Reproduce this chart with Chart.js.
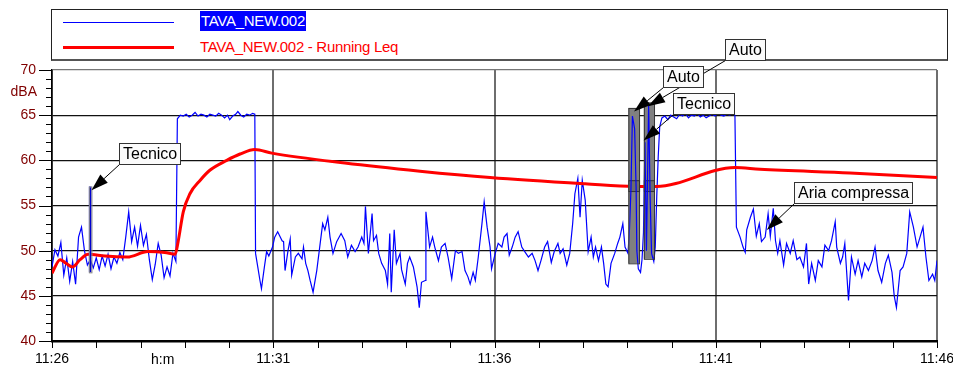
<!DOCTYPE html>
<html>
<head>
<meta charset="utf-8">
<script src="https://cdn.jsdelivr.net/npm/chart.js@4.4.1/dist/chart.umd.min.js"></script>
<style>
  html, body { margin: 0; padding: 0; background: #fff; }
  #wrap { position: relative; width: 953px; height: 372px; font-family: 'Liberation Sans', Arial, sans-serif; }
  #chart { position: absolute; left: 0; top: 0; }
  #legend { position: absolute; left: 51px; top: 9px; width: 895px; height: 49px;
            border: 1px solid #222; border-bottom: 2px solid #555; background: #fff; }
  #legend .swatch { position: absolute; left: 11px; width: 111px; }
  #legend .lbl { position: absolute; left: 148px; font-size: 15px; line-height: 20px; letter-spacing: -0.3px; white-space: nowrap; }
  #legend .sel { background: #0000ff; color: #fff; padding: 0 1px; }
</style>
</head>
<body>
<div id="wrap">
  <div id="legend"></div>
  <canvas id="chart" width="953" height="372"></canvas>
</div>
<script>
// time axis in seconds from 11:26:00
const TICK_SECONDS = [0, 300, 600, 900, 1200];
const TICK_LABELS  = ['11:26', '11:31', '11:36', '11:41', '11:46'];
const SERIES_NAMES = ['TAVA_NEW.002', 'TAVA_NEW.002 - Running Leq'];

// instantaneous level, [seconds, dBA]
const levelPoints = [
  [0,48.2],[4,50.1],[8,49.4],[12,50.9],[16,47.3],[20,49.2],[24,46.6],[28,48.8],[32,46.3],[36,51.5],
  [40,52.6],[44,50.0],[48,48.4],[52,49.0],[56,48.1],[60,49.2],[64,47.9],[68,49.4],[72,48.3],[76,49.6],
  [80,48.0],[84,49.3],[88,48.6],[92,49.8],[96,49.0],[100,51.5],[104,54.3],[108,51.0],[112,52.6],[116,50.5],
  [120,52.8],[124,50.6],[128,51.8],[132,49.0],[136,46.8],[140,48.5],[144,50.8],[148,49.5],[152,47.0],[156,48.2],
  [160,47.2],[164,49.7],[168,48.8],
  [170,64.6],[174,65.0],[178,64.9],[182,65.1],[186,64.8],[190,65.0],[194,65.3],[198,64.9],[202,65.1],[206,65.0],
  [210,64.8],[214,65.1],[218,65.0],[222,64.9],[226,65.2],[230,65.0],[234,64.7],[238,65.0],[241,64.5],[245,64.9],
  [249,65.1],[252,65.4],[256,65.0],[260,64.8],[264,65.1],[268,65.0],[272,65.2],[275,65.1],
  [276,49.7],[279,48.2],[282,46.7],[284,45.8],[288,48.2],[291,49.9],[294,49.4],[299,50.4],[302,51.5],[306,52.1],
  [312,51.1],[314,51.0],[316,47.8],[320,50.0],[323,51.3],[325,47.3],[330,49.3],[334,49.7],[339,49.1],[341,50.4],
  [344,48.6],[347,47.8],[350,46.7],[354,45.4],[359,47.8],[363,50.4],[367,53.0],[370,52.3],[374,53.7],[377,51.5],
  [381,49.7],[386,51.0],[392,51.9],[397,51.1],[401,49.3],[406,50.6],[411,49.9],[415,50.4],[420,51.5],[423,50.8],
  [425,54.9],[429,49.7],[434,54.1],[436,51.1],[440,51.7],[443,49.7],[447,48.6],[452,47.8],[455,46.3],[458,51.9],
  [460,45.4],[464,52.3],[467,48.6],[472,49.7],[474,47.9],[479,46.3],[482,48.6],[485,49.3],[490,48.2],[495,46.0],
  [498,43.7],[501,46.5],[506,46.7],[507,54.3],[512,50.4],[516,51.5],[519,50.4],[524,48.9],[528,50.4],[533,50.8],
  [537,49.3],[542,46.9],[547,50.0],[551,49.7],[556,49.9],[560,47.8],[564,47.1],[567,46.3],[571,47.6],[574,46.7],
  [578,49.3],[583,53.0],[586,55.4],[590,52.6],[594,50.4],[596,48.0],[601,49.7],[605,50.8],[610,50.4],[613,51.5],
  [617,51.9],[620,49.5],[624,50.4],[628,51.5],[632,52.1],[637,50.4],[641,49.9],[646,49.3],[651,49.7],[655,48.9],
  [659,47.8],[663,48.9],[668,50.4],[672,51.0],[677,48.7],[681,49.9],[686,50.8],[689,49.7],[693,50.2],[698,48.4],
  [702,49.7],[706,53.0],[709,56.3],[713,58.0],[716,53.7],[719,57.8],[723,55.6],[727,49.9],[731,51.5],[734,49.3],
  [737,50.4],[741,48.9],[745,50.4],[748,48.6],[751,46.3],[754,46.0],[758,48.6],[763,49.7],[767,50.8],[770,51.5],
  [774,53.0],[777,50.4],[781,49.7],
  [783,52.3],[785,56.7],[787,64.9],[790,63.5],[792,57.0],[793,50.0],[795,48.0],[798,47.6],[800,49.0],[802,52.0],
  [804,62.0],[806,50.0],[809,66.1],[811,56.0],[813,49.7],[816,48.8],[818,50.4],[820,56.0],[822,60.4],[824,63.7],
  [827,64.7],[831,64.9],[835,64.5],[839,65.0],[843,64.8],[847,64.6],[851,65.1],[855,64.9],[859,65.2],[863,64.7],
  [867,65.0],[871,64.9],[875,65.2],[879,64.8],[883,65.0],[887,64.7],[891,64.9],[895,65.1],[899,64.9],[903,65.2],
  [907,65.0],[911,64.9],[915,65.1],[919,65.0],[923,65.2],[926,65.0],
  [928,52.6],[933,51.5],[937,50.4],[940,49.8],[942,52.3],[947,53.7],[951,54.6],[955,51.6],[959,53.0],[962,51.0],
  [967,51.5],[971,54.1],[974,51.6],[978,54.7],[981,51.1],[984,49.7],[987,51.1],[992,48.4],[996,50.8],[1001,49.7],
  [1005,51.1],[1010,49.0],[1014,49.3],[1019,48.2],[1023,50.8],[1026,46.3],[1030,48.6],[1035,46.7],[1039,48.9],[1044,48.2],
  [1048,50.6],[1053,50.0],[1057,51.1],[1062,53.2],[1064,50.4],[1069,48.6],[1072,49.3],[1075,50.8],[1080,44.5],[1084,49.3],
  [1089,47.4],[1093,48.9],[1098,47.1],[1102,48.6],[1107,47.8],[1112,48.9],[1116,50.4],[1120,47.8],[1125,46.5],[1130,48.6],
  [1134,49.5],[1139,47.6],[1142,45.0],[1145,43.7],[1150,47.8],[1154,48.2],[1159,49.7],[1163,54.3],[1168,52.6],[1173,50.4],
  [1177,51.5],[1181,52.6],[1185,49.3],[1189,46.7],[1194,47.4],[1197,46.7],[1200,48.9]
];

// running Leq, [seconds, dBA]
const leqPoints = [
  [0,47.5],[11,49.0],[19,48.6],[28,48.2],[38,49.0],[49,49.6],[72,49.4],[102,49.3],[130,49.9],[153,49.8],
  [167,49.6],[171,51.0],[178,54.3],[187,56.3],[201,57.8],[214,58.9],[237,60.0],[255,60.7],[275,61.2],[298,60.8],
  [397,59.7],[499,58.8],[594,58.1],[723,57.4],[790,57.1],[819,57.1],[926,59.2],[960,59.0],[1082,58.6],[1200,58.1]
];

// excluded regions (gray) : [startSec, endSec, lowDb, highDb]
const excludedRegions = [[781.5, 796, 48.6, 65.8], [802.5, 816.3, 49.1, 66.4]];
// short marker at the first "Tecnico"
const markerRegion = [50, 53.5, 47.6, 57.1];

// callouts
const noteLabels  = ['Tecnico', 'Auto', 'Auto', 'Tecnico', 'Aria compressa'];
const noteBoxT    = [90.9, 912.6, 829, 842.5, 1006.2];
const noteBoxV    = [61.9, 73.4, 70.4, 67.5, 57.65];
const noteTargetT = [53.6, 808.2, 789.2, 802.2, 969.2];
const noteTargetV = [56.7, 66.0, 65.4, 62.2, 52.3];

const FONT = "'Liberation Sans', Arial, sans-serif";
Chart.defaults.font.family = FONT;

// legend (html, sits under the transparent canvas)
const legend = document.getElementById('legend');
legend.innerHTML = `
  <div class="swatch" style="top:12px;height:1px;background:#0000ff"></div>
  <div class="lbl sel" style="top:1px">${SERIES_NAMES[0]}</div>
  <div class="swatch" style="top:36px;height:3px;background:#ff0000"></div>
  <div class="lbl" style="top:27px;color:#ff0000">${SERIES_NAMES[1]}</div>`;

function arrow(ctx, x0, y0, x1, y1) {
  const ang = Math.atan2(y1 - y0, x1 - x0);
  const len = 17, half = 5.5;
  const bx = x1 - Math.cos(ang) * len, by = y1 - Math.sin(ang) * len;
  ctx.strokeStyle = '#000';
  ctx.lineWidth = 1;
  ctx.beginPath(); ctx.moveTo(x0, y0); ctx.lineTo(bx, by); ctx.stroke();
  ctx.fillStyle = '#000';
  ctx.beginPath();
  ctx.moveTo(x1, y1);
  ctx.lineTo(bx - Math.sin(ang) * half, by + Math.cos(ang) * half);
  ctx.lineTo(bx + Math.sin(ang) * half, by - Math.cos(ang) * half);
  ctx.closePath(); ctx.fill();
}

const overlay = {
  id: 'overlay',
  afterDatasetsDraw(chart) {
    const { ctx, chartArea: a, scales: { x, y } } = chart;
    ctx.save();

    // gray excluded regions, with the Leq band
    const leqAt = 57.2;
    excludedRegions.forEach(([t0, t1, lo, hi]) => {
      const px0 = x.getPixelForValue(t0), px1 = x.getPixelForValue(t1);
      const py0 = y.getPixelForValue(hi), py1 = y.getPixelForValue(lo);
      ctx.fillStyle = '#808080';
      ctx.fillRect(px0, py0, px1 - px0, py1 - py0);
      ctx.strokeStyle = '#333'; ctx.lineWidth = 1;
      ctx.strokeRect(px0 + 0.5, py0 + 0.5, px1 - px0, py1 - py0);
      const b0 = y.getPixelForValue(leqAt + 0.6), b1 = y.getPixelForValue(leqAt - 0.6);
      ctx.fillStyle = '#6c6c6c';
      ctx.fillRect(px0, b0, px1 - px0, b1 - b0);
      ctx.strokeRect(px0 + 0.5, b0 + 0.5, px1 - px0, b1 - b0);
    });

    // level trace stays visible over the gray regions
    ctx.save();
    ctx.beginPath();
    excludedRegions.forEach(([t0, t1, lo, hi]) => {
      const px0 = x.getPixelForValue(t0), px1 = x.getPixelForValue(t1);
      ctx.rect(px0 + 1, y.getPixelForValue(hi) + 1, px1 - px0 - 1, y.getPixelForValue(lo) - y.getPixelForValue(hi) - 1);
    });
    ctx.clip();
    const pts = chart.getDatasetMeta(1).data;
    ctx.strokeStyle = '#0000ff'; ctx.lineWidth = 1.2;
    ctx.beginPath();
    pts.forEach((p, i) => i ? ctx.lineTo(p.x, p.y) : ctx.moveTo(p.x, p.y));
    ctx.stroke();
    ctx.restore();

    // Tecnico marker
    {
      const [t0, t1, lo, hi] = markerRegion;
      const px0 = x.getPixelForValue(t0), px1 = x.getPixelForValue(t1);
      const py0 = y.getPixelForValue(hi), py1 = y.getPixelForValue(lo);
      ctx.fillStyle = '#0000d0';
      ctx.fillRect(px0, py0, px1 - px0, py1 - py0);
      ctx.strokeStyle = '#8a8a8a'; ctx.lineWidth = 1;
      ctx.strokeRect(px0 + 0.5, py0 + 0.5, px1 - px0, py1 - py0);
    }

    // ticks
    ctx.strokeStyle = '#000'; ctx.lineWidth = 1;
    ctx.beginPath();
    for (let v = 40; v <= 70; v++) {
      const py = Math.round(y.getPixelForValue(v)) + 0.5;
      ctx.moveTo(a.left - (v % 5 === 0 ? 13 : 6), py); ctx.lineTo(a.left, py);
    }
    for (let t = 0; t <= 1200; t += 60) {
      const px = Math.round(x.getPixelForValue(t)) + 0.5;
      ctx.moveTo(px, a.bottom); ctx.lineTo(px, a.bottom + 7);
    }
    ctx.stroke();

    // axis captions
    ctx.font = '14px ' + FONT;
    ctx.fillStyle = '#800000';
    ctx.textAlign = 'right'; ctx.textBaseline = 'middle';
    ctx.fillText('dBA', 37, y.getPixelForValue(67.5));
    ctx.fillStyle = '#000';
    ctx.textAlign = 'center';
    ctx.fillText('h:m', x.getPixelForValue(150), a.bottom + 19);

    // callouts
    ctx.font = '16px ' + FONT;
    noteLabels.forEach((txt, i) => {
      const bx = Math.round(x.getPixelForValue(noteBoxT[i])) + 0.5;
      const by = Math.round(y.getPixelForValue(noteBoxV[i])) + 0.5;
      const w = Math.round(ctx.measureText(txt).width) + 7, h = 21;
      arrow(ctx, bx, by + h, x.getPixelForValue(noteTargetT[i]), y.getPixelForValue(noteTargetV[i]));
      ctx.fillStyle = '#fbfbfb';
      ctx.fillRect(bx, by, w, h);
      ctx.strokeStyle = '#333'; ctx.lineWidth = 1;
      ctx.strokeRect(bx, by, w, h);
      ctx.fillStyle = '#000';
      ctx.textAlign = 'left'; ctx.textBaseline = 'middle';
      ctx.fillText(txt, bx + 3.5, by + h / 2 + 1);
    });
    ctx.restore();
  }
};

new Chart(document.getElementById('chart'), {
  type: 'line',
  data: {
    datasets: [
      {
        label: SERIES_NAMES[1],
        data: leqPoints.map(([t, v]) => ({ x: t, y: v })),
        borderColor: '#ff0000',
        borderWidth: 3,
        pointRadius: 0,
        cubicInterpolationMode: 'monotone'
      },
      {
        label: SERIES_NAMES[0],
        data: levelPoints.map(([t, v]) => ({ x: t, y: v })),
        borderColor: '#0000ff',
        borderWidth: 1.2,
        pointRadius: 0,
        tension: 0
      }
    ]
  },
  options: {
    responsive: false,
    animation: false,
    devicePixelRatio: 1,
    layout: { padding: { top: 70, right: 16, left: 0, bottom: 0 } },
    plugins: { legend: { display: false }, tooltip: { enabled: false } },
    scales: {
      x: {
        type: 'linear', min: 0, max: 1200,
        afterFit: s => { s.height = 31; s.paddingLeft = 0; s.paddingRight = 0; },
        ticks: {
          stepSize: 60, autoSkip: false, maxRotation: 0, padding: 10,
          color: '#000', font: { size: 14 },
          callback: v => TICK_SECONDS.includes(v) ? TICK_LABELS[TICK_SECONDS.indexOf(v)] : ''
        },
        grid: {
          drawTicks: false, lineWidth: 2,
          color: c => (c.tick && c.tick.value % 300 === 0) ? '#6e6e6e' : 'rgba(0,0,0,0)'
        },
        border: { color: '#000', width: 2.5 }
      },
      y: {
        min: 40, max: 70,
        afterFit: s => { s.width = 52; s.paddingTop = 0; s.paddingBottom = 0; },
        ticks: {
          stepSize: 1, autoSkip: false, padding: 16,
          color: '#800000', font: { size: 14 },
          callback: v => v % 5 === 0 ? v : ''
        },
        grid: {
          drawTicks: false, lineWidth: 1.2,
          color: c => !c.tick || c.tick.value % 5 !== 0 ? 'rgba(0,0,0,0)' : (c.tick.value === 70 ? '#777' : '#111')
        },
        border: { color: '#000', width: 1.5 }
      }
    }
  },
  plugins: [overlay]
});
</script>
</body>
</html>
